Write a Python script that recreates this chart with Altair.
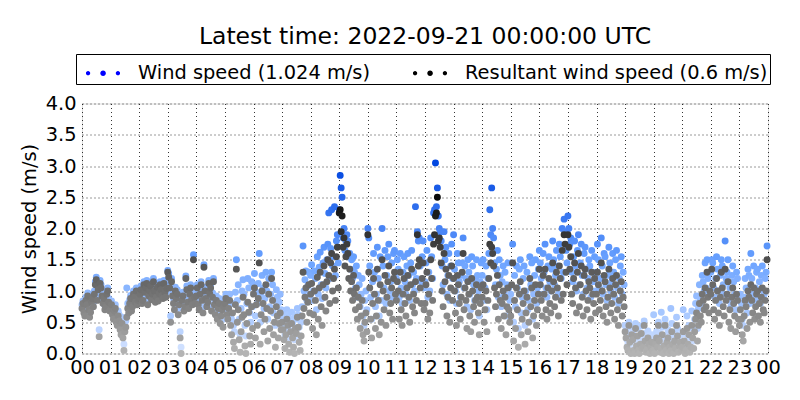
import altair as alt
import pandas as pd

TITLE = "Latest time: 2022-09-21 00:00:00 UTC"
WS_LABEL = "Wind speed (1.024 m/s)"
RS_LABEL = "Resultant wind speed (0.6 m/s)"
Y_TITLE = "Wind speed (m/s)"
HOUR_LABELS = ["00", "01", "02", "03", "04", "05", "06", "07", "08", "09", "10", "11",
               "12", "13", "14", "15", "16", "17", "18", "19", "20", "21", "22", "23", "00"]
HOUR_TICKS = list(range(25))
Y_TICKS = [0.0, 0.5, 1.0, 1.5, 2.0, 2.5, 3.0, 3.5, 4.0]
STEP_MIN = 2  # one reading every 2 minutes, 30 per hour

# wind speed (m/s), one row per hour
wind_speed = [
    [0.78, 0.84, 0.72, 0.68, 0.90, 0.83, 0.97, 0.77, 0.66, 0.72, 0.86, 0.93, 0.82, 1.00, 1.15, 1.22, 0.92, 1.08, 0.38, 1.17, 1.10, 0.98, 0.86, 0.93, 0.77, 0.80, 1.00, 1.05, 0.88, 0.75],
    [0.76, 0.84, 0.70, 0.63, 0.75, 0.78, 0.58, 0.55, 0.68, 0.62, 0.48, 0.40, 0.58, 0.36, 0.15, 0.45, 0.52, 1.05, 0.80, 0.72, 0.86, 0.93, 0.75, 0.82, 1.00, 0.96, 0.88, 1.05, 0.85, 0.92],
    [0.94, 1.01, 1.08, 0.87, 0.92, 1.15, 1.04, 1.10, 1.17, 0.85, 0.98, 1.06, 1.13, 0.93, 1.01, 1.20, 1.06, 0.89, 0.96, 1.12, 0.91, 1.02, 1.15, 1.08, 0.99, 0.95, 1.17, 1.04, 0.97, 1.10],
    [1.33, 1.28, 1.12, 0.60, 1.20, 0.98, 0.88, 0.80, 1.06, 0.95, 1.02, 0.72, 0.86, 0.35, 0.10, 0.92, 0.98, 0.76, 0.83, 1.24, 1.08, 0.90, 0.80, 1.02, 1.10, 0.93, 0.86, 1.58, 0.97, 0.88],
    [0.98, 1.10, 0.86, 0.78, 1.02, 1.15, 0.92, 0.74, 1.42, 1.06, 0.95, 0.83, 0.90, 1.17, 1.03, 1.10, 0.77, 0.97, 1.20, 0.86, 0.72, 0.92, 0.65, 0.80, 0.88, 0.58, 0.70, 0.78, 0.55, 0.84],
    [0.88, 0.95, 0.70, 0.68, 0.82, 0.95, 0.60, 0.55, 0.80, 0.45, 0.35, 0.98, 1.50, 0.85, 1.10, 0.55, 0.30, 0.72, 1.00, 1.18, 0.95, 0.45, 0.28, 0.80, 1.20, 1.05, 0.65, 0.50, 1.15, 0.75],
    [1.10, 1.28, 0.60, 0.98, 0.80, 1.12, 1.60, 0.50, 0.92, 1.25, 1.05, 0.72, 0.88, 1.30, 1.00, 0.55, 1.20, 0.75, 0.95, 1.30, 1.10, 0.65, 0.85, 0.45, 1.02, 0.90, 0.60, 0.82, 0.95, 0.70],
    [0.65, 0.58, 0.42, 0.30, 0.52, 0.70, 0.62, 0.38, 0.25, 0.55, 0.66, 0.48, 0.32, 0.22, 0.60, 0.55, 0.72, 0.62, 0.42, 0.28, 0.50, 0.75, 1.72, 1.00, 1.18, 1.32, 0.85, 1.08, 1.30, 0.95],
    [1.25, 1.42, 0.85, 1.00, 1.32, 1.20, 0.70, 1.55, 0.95, 1.38, 1.62, 1.10, 0.88, 1.45, 1.70, 1.28, 1.05, 1.50, 1.75, 2.25, 1.20, 1.68, 2.30, 1.40, 1.55, 2.35, 1.25, 1.80, 1.90, 1.45],
    [2.30, 2.85, 2.65, 2.50, 1.85, 2.00, 1.65, 1.80, 1.90, 1.80, 1.55, 1.60, 1.35, 1.50, 1.20, 1.55, 1.30, 1.05, 1.40, 0.90, 1.25, 1.10, 0.75, 0.95, 1.20, 0.60, 0.45, 0.85, 1.00, 0.70],
    [2.00, 1.85, 1.40, 0.90, 0.55, 1.15, 1.60, 1.30, 0.75, 0.95, 1.70, 1.20, 0.60, 1.55, 0.85, 2.00, 1.40, 1.05, 1.65, 0.80, 1.25, 1.55, 1.75, 1.00, 1.15, 1.45, 0.90, 1.60, 1.65, 1.30],
    [1.20, 1.50, 1.35, 0.90, 1.60, 1.05, 0.80, 1.30, 1.55, 1.15, 0.95, 1.40, 1.60, 1.25, 0.85, 1.45, 1.65, 1.10, 1.30, 1.00, 2.35, 1.20, 1.95, 1.80, 1.85, 1.40, 1.15, 1.55, 1.80, 1.05],
    [1.15, 1.45, 1.65, 0.90, 1.30, 1.00, 1.85, 1.55, 1.20, 2.25, 2.30, 3.05, 2.35, 2.65, 2.20, 2.00, 1.95, 1.80, 1.40, 1.10, 1.95, 1.50, 1.70, 0.95, 1.25, 1.60, 0.85, 1.40, 1.75, 1.20],
    [1.90, 1.35, 1.00, 0.80, 1.60, 1.45, 1.15, 0.90, 1.25, 1.45, 1.85, 1.05, 1.40, 1.20, 0.75, 1.50, 1.30, 0.95, 0.70, 1.55, 1.40, 1.10, 0.85, 1.20, 1.50, 1.25, 1.00, 0.60, 1.15, 1.45],
    [1.25, 1.50, 0.85, 1.05, 1.40, 0.70, 1.20, 1.60, 2.30, 1.90, 2.65, 2.00, 1.85, 1.45, 1.10, 1.35, 1.65, 0.90, 1.50, 1.25, 0.75, 1.15, 1.40, 0.95, 1.30, 0.60, 1.10, 1.45, 1.05, 0.85],
    [0.95, 1.45, 1.75, 0.50, 1.25, 0.75, 1.40, 1.05, 0.40, 1.35, 1.50, 0.65, 0.90, 1.20, 1.40, 0.45, 1.00, 1.30, 0.70, 0.85, 1.55, 1.10, 1.45, 0.55, 0.95, 1.25, 1.50, 0.80, 1.05, 1.35],
    [1.65, 1.45, 1.20, 0.95, 1.60, 1.30, 1.75, 1.05, 0.90, 1.40, 1.55, 1.15, 1.00, 1.35, 1.80, 1.50, 1.10, 1.25, 1.65, 1.40, 0.95, 1.75, 1.55, 1.20, 2.00, 1.30, 2.15, 1.95, 1.65, 1.45],
    [2.20, 2.00, 1.75, 1.85, 1.30, 1.15, 1.55, 1.80, 1.40, 1.00, 1.65, 1.90, 1.10, 1.45, 1.75, 1.25, 0.95, 1.60, 1.70, 1.35, 1.05, 1.20, 1.50, 1.40, 0.90, 1.65, 1.30, 1.15, 1.55, 1.00],
    [1.30, 1.75, 1.50, 1.05, 1.20, 1.85, 1.40, 0.95, 1.60, 1.55, 1.10, 0.85, 1.25, 1.70, 1.45, 1.00, 1.15, 1.60, 1.30, 0.90, 1.50, 1.65, 1.05, 0.80, 1.20, 1.40, 1.55, 0.95, 1.30, 1.10],
    [0.45, 0.38, 0.22, 0.15, 0.50, 0.30, 0.10, 0.42, 0.34, 0.16, 0.10, 0.48, 0.25, 0.40, 0.15, 0.12, 0.28, 0.44, 0.20, 0.22, 0.52, 0.32, 0.12, 0.18, 0.36, 0.28, 0.10, 0.22, 0.30, 0.14],
    [0.62, 0.12, 0.25, 0.35, 0.22, 0.50, 0.32, 0.14, 0.66, 0.42, 0.10, 0.24, 0.55, 0.15, 0.30, 0.38, 0.12, 0.22, 0.72, 0.48, 0.28, 0.12, 0.34, 0.20, 0.58, 0.40, 0.14, 0.26, 0.30, 0.18],
    [0.20, 0.70, 0.32, 0.10, 0.18, 0.60, 0.28, 0.45, 0.12, 0.22, 0.68, 0.40, 0.20, 0.55, 0.80, 0.92, 0.40, 0.72, 1.10, 0.88, 0.80, 1.25, 1.15, 1.00, 1.45, 1.05, 1.50, 1.20, 0.95, 1.30],
    [1.30, 1.50, 1.45, 1.05, 0.90, 1.20, 1.55, 1.35, 1.00, 0.80, 1.25, 1.50, 1.40, 1.10, 0.95, 1.80, 1.20, 1.30, 1.50, 0.85, 1.05, 0.75, 1.25, 1.40, 1.15, 0.95, 0.70, 1.30, 1.20, 0.90],
    [0.70, 0.95, 0.80, 0.55, 0.45, 0.90, 1.20, 1.05, 0.65, 1.35, 1.25, 0.80, 1.60, 1.20, 0.95, 1.40, 0.85, 1.05, 1.30, 1.35, 0.90, 1.15, 0.80, 1.25, 1.40, 1.00, 0.95, 1.20, 1.30, 1.72],
]

# resultant wind speed (m/s), one row per hour
resultant = [
    [0.72, 0.80, 0.65, 0.60, 0.85, 0.78, 0.92, 0.70, 0.58, 0.66, 0.82, 0.88, 0.75, 0.95, 1.10, 1.18, 0.85, 1.02, 0.27, 1.12, 1.05, 0.92, 0.80, 0.88, 0.70, 0.75, 0.95, 1.00, 0.82, 0.68],
    [0.70, 0.78, 0.62, 0.55, 0.68, 0.72, 0.50, 0.45, 0.60, 0.52, 0.38, 0.30, 0.48, 0.25, 0.05, 0.35, 0.42, 0.58, 0.72, 0.65, 0.80, 0.88, 0.68, 0.75, 0.95, 0.90, 0.82, 1.00, 0.78, 0.85],
    [0.88, 0.95, 1.02, 0.80, 0.85, 1.10, 0.98, 1.05, 1.12, 0.78, 0.92, 1.00, 1.08, 0.86, 0.95, 1.15, 1.00, 0.82, 0.90, 1.06, 0.84, 0.96, 1.10, 1.02, 0.93, 0.88, 1.12, 0.98, 0.90, 1.04],
    [1.30, 1.22, 1.05, 0.50, 1.15, 0.92, 0.80, 0.70, 1.00, 0.88, 0.95, 0.62, 0.78, 0.25, 0.00, 0.85, 0.92, 0.68, 0.75, 1.20, 1.02, 0.82, 0.72, 0.95, 1.05, 0.86, 0.78, 1.50, 0.90, 0.80],
    [0.92, 1.05, 0.78, 0.70, 0.95, 1.10, 0.85, 0.65, 1.38, 1.00, 0.88, 0.75, 0.82, 1.12, 0.96, 1.05, 0.68, 0.90, 1.15, 0.78, 0.62, 0.85, 0.55, 0.72, 0.80, 0.48, 0.60, 0.70, 0.42, 0.75],
    [0.80, 0.88, 0.62, 0.55, 0.72, 0.85, 0.45, 0.30, 0.65, 0.18, 0.08, 0.78, 1.35, 0.50, 0.70, 0.22, 0.02, 0.35, 0.58, 0.90, 0.62, 0.12, 0.00, 0.48, 0.82, 0.66, 0.28, 0.15, 0.75, 0.40],
    [0.95, 1.05, 0.25, 0.78, 0.45, 0.88, 1.45, 0.15, 0.62, 1.00, 0.80, 0.35, 0.55, 1.10, 0.72, 0.20, 0.95, 0.40, 0.68, 1.20, 0.85, 0.30, 0.50, 0.10, 0.75, 0.60, 0.25, 0.48, 0.65, 0.38],
    [0.50, 0.38, 0.22, 0.08, 0.30, 0.55, 0.45, 0.15, 0.02, 0.35, 0.48, 0.25, 0.10, 0.00, 0.40, 0.32, 0.58, 0.42, 0.18, 0.05, 0.28, 0.60, 1.30, 0.72, 0.90, 1.05, 0.50, 0.82, 1.10, 0.65],
    [0.95, 1.12, 0.40, 0.62, 1.00, 0.85, 0.30, 1.22, 0.55, 1.05, 1.30, 0.75, 0.45, 1.10, 1.40, 0.90, 0.68, 1.15, 1.50, 1.25, 0.80, 1.45, 1.60, 1.00, 1.20, 1.35, 0.85, 1.55, 1.70, 1.05],
    [2.25, 2.30, 1.95, 2.20, 1.70, 1.85, 1.40, 1.55, 1.75, 1.60, 1.20, 1.35, 1.00, 1.15, 0.85, 1.25, 0.95, 0.70, 1.05, 0.55, 0.90, 0.75, 0.40, 0.60, 0.85, 0.30, 0.20, 0.50, 0.65, 0.35],
    [1.90, 1.30, 1.05, 0.55, 0.25, 0.80, 1.20, 0.95, 0.40, 0.60, 1.35, 0.85, 0.30, 1.10, 0.50, 1.50, 1.00, 0.70, 1.25, 0.45, 0.90, 1.15, 1.40, 0.65, 0.80, 1.05, 0.55, 1.20, 1.30, 0.95],
    [0.85, 1.15, 1.00, 0.55, 1.30, 0.70, 0.45, 0.95, 1.20, 0.80, 0.60, 1.05, 1.25, 0.90, 0.50, 1.10, 1.35, 0.75, 0.95, 0.65, 1.15, 0.85, 1.90, 1.40, 1.50, 1.05, 0.80, 1.20, 1.45, 0.70],
    [0.80, 1.10, 1.30, 0.55, 0.95, 0.65, 1.50, 1.20, 0.85, 1.75, 1.90, 2.20, 2.25, 2.50, 1.80, 1.85, 1.70, 1.45, 1.00, 0.75, 1.60, 1.15, 1.35, 0.60, 0.90, 1.25, 0.50, 1.05, 1.40, 0.85],
    [1.20, 1.00, 0.65, 0.45, 1.25, 1.10, 0.80, 0.55, 0.90, 1.30, 1.60, 0.70, 1.05, 0.85, 0.40, 1.15, 0.95, 0.60, 0.35, 1.20, 1.00, 0.75, 0.50, 0.85, 1.10, 0.90, 0.65, 0.30, 0.80, 1.05],
    [0.90, 1.10, 0.50, 0.70, 1.00, 0.35, 0.85, 1.20, 1.75, 1.45, 1.70, 1.60, 1.40, 1.05, 0.75, 0.95, 1.25, 0.55, 1.10, 0.85, 0.40, 0.80, 1.00, 0.60, 0.90, 0.30, 0.75, 1.05, 0.70, 0.50],
    [0.60, 1.10, 1.45, 0.20, 0.85, 0.40, 1.05, 0.70, 0.10, 0.95, 1.15, 0.30, 0.55, 0.80, 1.00, 0.15, 0.65, 0.90, 0.35, 0.50, 1.20, 0.75, 1.05, 0.25, 0.60, 0.85, 1.10, 0.45, 0.70, 0.95],
    [1.35, 1.10, 0.85, 0.60, 1.25, 0.95, 1.35, 0.70, 0.55, 1.05, 1.20, 0.80, 0.65, 1.00, 1.45, 1.15, 0.75, 0.90, 1.30, 1.05, 0.60, 1.40, 1.20, 0.85, 1.65, 0.95, 1.90, 1.75, 1.30, 1.10],
    [1.90, 1.70, 1.35, 1.55, 0.95, 0.80, 1.20, 1.45, 1.05, 0.65, 1.30, 1.60, 0.75, 1.10, 1.40, 0.90, 0.60, 1.25, 1.35, 1.00, 0.70, 0.85, 1.15, 1.05, 0.55, 1.30, 0.95, 0.80, 1.20, 0.65],
    [0.95, 1.30, 1.10, 0.70, 0.85, 1.45, 1.00, 0.60, 1.25, 1.15, 0.75, 0.50, 0.90, 1.35, 1.05, 0.65, 0.80, 1.20, 0.95, 0.55, 1.10, 1.25, 0.70, 0.45, 0.85, 1.00, 1.15, 0.60, 0.90, 0.75],
    [0.35, 0.25, 0.10, 0.05, 0.45, 0.18, 0.00, 0.30, 0.22, 0.05, 0.00, 0.40, 0.12, 0.28, 0.05, 0.00, 0.15, 0.32, 0.08, 0.10, 0.45, 0.20, 0.02, 0.06, 0.25, 0.15, 0.00, 0.10, 0.18, 0.04],
    [0.05, 0.00, 0.15, 0.25, 0.10, 0.45, 0.20, 0.02, 0.08, 0.30, 0.00, 0.12, 0.45, 0.05, 0.18, 0.25, 0.00, 0.10, 0.04, 0.35, 0.15, 0.00, 0.20, 0.08, 0.45, 0.28, 0.02, 0.12, 0.18, 0.05],
    [0.10, 0.35, 0.20, 0.00, 0.05, 0.40, 0.15, 0.30, 0.02, 0.10, 0.45, 0.25, 0.08, 0.35, 0.55, 0.65, 0.20, 0.45, 0.80, 0.60, 0.50, 0.95, 0.85, 0.70, 1.05, 0.75, 1.30, 0.90, 0.65, 1.00],
    [0.95, 1.35, 1.10, 0.70, 0.55, 0.85, 1.20, 1.00, 0.65, 0.45, 0.90, 1.30, 1.05, 0.75, 0.60, 1.35, 0.85, 0.95, 1.15, 0.50, 0.70, 0.40, 0.90, 1.05, 0.80, 0.60, 0.35, 0.95, 0.85, 0.55],
    [0.45, 0.70, 0.55, 0.30, 0.20, 0.60, 0.85, 0.75, 0.40, 1.00, 0.90, 0.50, 1.10, 0.85, 0.65, 1.05, 0.55, 0.75, 0.95, 1.00, 0.60, 0.80, 0.50, 0.90, 1.05, 0.70, 0.65, 0.85, 1.00, 1.50],
]


def to_frame(rows):
    recs = []
    for h, row in enumerate(rows):
        for k, v in enumerate(row):
            recs.append({"t": h + k * STEP_MIN / 60.0, "v": v})
    return pd.DataFrame(recs)


df_ws = to_frame(wind_speed)
df_rs = to_frame(resultant)
df_leg = pd.DataFrame({"series": [WS_LABEL, RS_LABEL]})

FONT = "DejaVu Sans"
FS = 19.4

label_js = "[" + ",".join("'" + s + "'" for s in HOUR_LABELS) + "][datum.value]"

x_enc = alt.X(
    "t:Q",
    scale=alt.Scale(domain=[0, 24], nice=False, zero=False),
    axis=alt.Axis(values=HOUR_TICKS, labelExpr=label_js, title=None, grid=True,
                  gridDash=[1, 3], gridColor="black", gridOpacity=1, gridWidth=0.8,
                  ticks=False, domain=False, labelFont=FONT, labelFontSize=FS,
                  labelColor="black", labelPadding=5, labelFlush=False, labelOverlap=False),
)
y_enc = alt.Y(
    "v:Q",
    scale=alt.Scale(domain=[0, 4], nice=False),
    axis=alt.Axis(values=Y_TICKS, format=".1f", title=Y_TITLE, grid=True,
                  gridDash=[1, 3], gridColor="black", gridOpacity=1, gridWidth=0.8,
                  ticks=False, domain=False, labelFont=FONT, labelFontSize=FS,
                  labelColor="black", labelPadding=6, labelFlush=False, labelOverlap=False,
                  titleFont=FONT, titleFontSize=FS, titleFontWeight="normal",
                  titleColor="black", titlePadding=6),
)

ws_layer = alt.Chart(df_ws).mark_circle(size=48, opacity=1).encode(
    x=x_enc, y=y_enc,
    color=alt.Color("v:Q", scale=alt.Scale(domain=[0, 1.5, 3.0],
                                           range=["#d6e4ff", "#6aa2ff", "#0046e0"],
                                           interpolate="rgb", clamp=True), legend=None),
)
rs_layer = alt.Chart(df_rs).mark_circle(size=48, opacity=1).encode(
    x=x_enc, y=y_enc,
    color=alt.Color("v:Q", scale=alt.Scale(domain=[0, 2.5], range=["#b4b4b4", "#0a0a0a"],
                                           interpolate="rgb", clamp=True), legend=None),
)


def dot(cx, cy, r):
    return f"M{cx - r:.3f},{cy:.3f}a{r:.3f},{r:.3f} 0 1,0 {2 * r:.3f},0a{r:.3f},{r:.3f} 0 1,0 {-2 * r:.3f},0Z"


THREE_DOTS = dot(-0.39, 0.04, 0.13) + dot(0.52, 0.04, 0.17) + dot(1.42, 0.04, 0.13)

legend_layer = alt.Chart(df_leg).transform_filter("false").mark_point(filled=True, opacity=1).encode(
    color=alt.Color("series:N", scale=alt.Scale(domain=[WS_LABEL, RS_LABEL], range=["#0000ff", "#000000"]),
                    legend=alt.Legend(title=None, orient="none", legendX=-6, legendY=-49.5,
                                      direction="horizontal", symbolType=THREE_DOTS, symbolSize=1089,
                                      symbolStrokeWidth=0, symbolOpacity=1, labelFont=FONT,
                                      labelFontSize=FS, labelColor="black", labelLimit=500,
                                      labelOffset=27, columnPadding=35, padding=2,
                                      strokeColor="black", fillColor="white", cornerRadius=0)),
)

chart = alt.layer(ws_layer, rs_layer, legend_layer).resolve_scale(color="independent").properties(
    width=686, height=250,
    autosize=alt.AutoSizeParams(type="none"),
    padding={"left": 74, "top": 95.5, "right": 16, "bottom": 34},
    title=alt.TitleParams(TITLE, font=FONT, fontSize=23.5, fontWeight="normal", color="black",
                          anchor="middle", offset=5),
).configure_view(stroke="black", strokeWidth=1).configure(background="white")

chart.save("out.html", embed_options={"renderer": "svg", "actions": False})
